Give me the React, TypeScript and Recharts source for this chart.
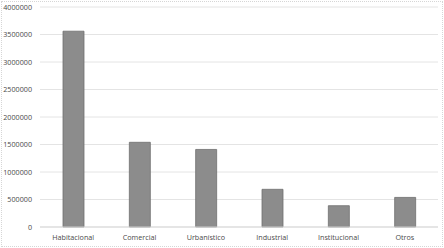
import { BarChart, Bar, XAxis, YAxis, CartesianGrid } from 'recharts';

const categories = ['Habitacional', 'Comercial', 'Urbanístico', 'Industrial', 'Institucional', 'Otros'];
const values = [3560000, 1540000, 1410000, 685000, 387000, 538000];
const yTicks = [0, 500000, 1000000, 1500000, 2000000, 2500000, 3000000, 3500000, 4000000];

const data = categories.map((name, i) => ({ name, value: values[i] }));

const tickStyle = { fontSize: 7.2, fill: '#4a4a4a', fontFamily: '"Open Sans", sans-serif' };

export default function App() {
  return (
    <div style={{ position: 'absolute', left: 0, top: 0, width: 444, height: 248, background: '#fff' }}>
      <div
        style={{
          position: 'absolute', left: 1, top: 1, width: 440, height: 244,
          border: '1px dotted #d6d6d6', pointerEvents: 'none',
        }}
      />
      <BarChart width={444} height={248} data={data} margin={{ top: 7, right: 6, bottom: 0, left: 0 }}>
        <CartesianGrid vertical={false} stroke="#e4e4e4" />
        <XAxis
          dataKey="name"
          height={21}
          tickLine={false}
          axisLine={{ stroke: '#d9d9d9' }}
          tick={tickStyle}
          interval={0}
        />
        <YAxis
          width={40}
          domain={[0, 4000000]}
          ticks={yTicks}
          tickLine={false}
          axisLine={false}
          tick={tickStyle}
          interval={0}
        />
        <Bar dataKey="value" fill="#8c8c8c" stroke="#6e6e6e" strokeWidth={0.8} barSize={21} isAnimationActive={false} />
      </BarChart>
    </div>
  );
}
